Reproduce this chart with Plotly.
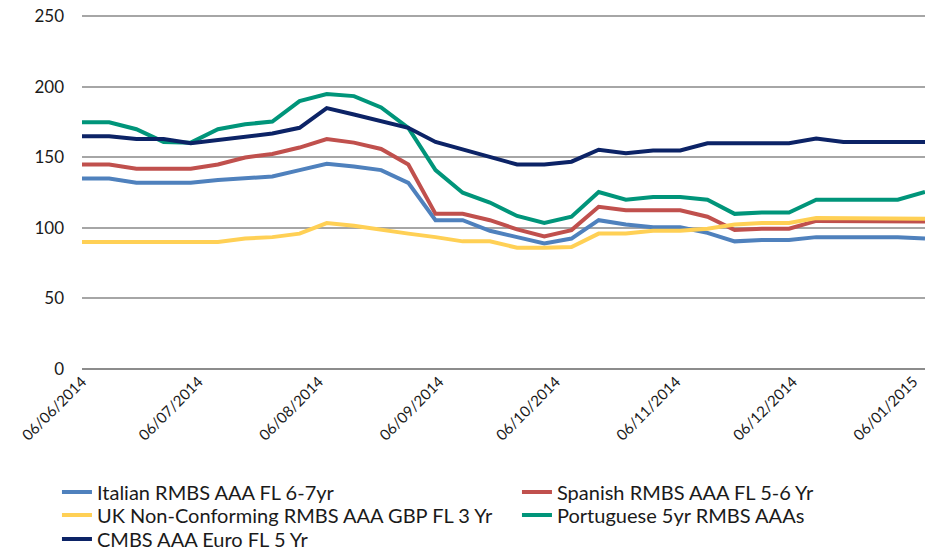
import plotly.graph_objects as go
import pandas as pd

dates = pd.date_range("2014-06-06", periods=32, freq="7D")

italian = [135, 135, 132, 132, 132, 134, 135.5, 136.5, 141, 145.5, 143.5, 141, 132, 105.5, 105.5, 98,
           93.5, 89, 92.5, 105.5, 102.5, 100.5, 100.5, 96.5, 90.5, 91.5, 91.5, 93.5, 93.5, 93.5, 93.5, 92.5]
spanish = [145, 145, 142, 142, 142, 145, 150, 152.5, 157, 163, 160.5, 156, 145, 110, 110, 105.5,
           99, 94, 98.5, 115, 112.5, 112.5, 112.5, 108, 98.5, 99.5, 99.5, 105, 105, 105, 105, 104.5]
uk = [90, 90, 90, 90, 90, 90, 92.5, 93.5, 96, 103.5, 101.5, 98.5, 96, 93.5, 90.5, 90.5,
      86, 86, 86.5, 96, 96, 98, 98, 99.5, 102.5, 103.5, 103.5, 107, 107, 107, 107, 106.5]
portuguese = [175, 175, 170, 161, 160.5, 170, 173.5, 175.5, 190, 195, 193.5, 185.5, 171, 141, 125, 118,
              108.5, 103.5, 108, 125.5, 120, 122, 122, 120, 110, 111, 111, 120, 120, 120, 120, 125.5]
cmbs = [165, 165, 163, 163, 160, 162.5, 164.5, 167, 171, 185, 180.5, 176, 171, 161, 155.5, 150,
        145, 145, 147, 155.5, 153, 155, 155, 160, 160, 160, 160, 163.5, 161, 161, 161, 161]

series = [
    ("Italian RMBS AAA FL 6-7yr", italian, "#4F81BD", "legend"),
    ("Spanish RMBS AAA FL 5-6 Yr", spanish, "#C0504D", "legend"),
    ("UK Non-Conforming RMBS AAA GBP FL 3 Yr", uk, "#FFD055", "legend2"),
    ("Portuguese 5yr RMBS AAAs", portuguese, "#00957A", "legend2"),
    ("CMBS AAA Euro FL 5 Yr", cmbs, "#0C2366", "legend3"),
]

tick_dates = pd.to_datetime(["2014-06-06", "2014-07-06", "2014-08-06", "2014-09-06",
                             "2014-10-06", "2014-11-06", "2014-12-06", "2015-01-06"])
tick_labels = [d.strftime("%d/%m/%Y") for d in tick_dates]
y_ticks = [0, 50, 100, 150, 200, 250]

FONT = "Lato, 'Open Sans', sans-serif"
TXT = "#1a1a1a"

fig = go.Figure()
for name, vals, color, lg in series:
    fig.add_trace(go.Scatter(x=dates, y=vals, name=name, mode="lines", legend=lg,
                             line=dict(color=color, width=4)))

PLOT_H = 354  # px, 0..251 on the y axis

def legend_row(top_px):
    # top_px: legend top in page pixels
    return dict(orientation="h", x=-0.0297, xanchor="left", y=(369 - top_px) / PLOT_H, yanchor="top",
                entrywidth=0.4973, entrywidthmode="fraction", tracegroupgap=0,
                bgcolor="rgba(0,0,0,0)", font=dict(size=20, color=TXT))

fig.update_layout(
    width=934, height=552,
    margin=dict(l=82, r=9, t=15, b=183, autoexpand=False),
    paper_bgcolor="white", plot_bgcolor="white",
    font=dict(family=FONT, size=17, color=TXT),
    showlegend=True,
    legend=legend_row(472.5),
    legend2=legend_row(495.5),
    legend3=legend_row(519.5),
    xaxis=dict(range=[dates[0], dates[-1]], tickvals=tick_dates, ticktext=tick_labels,
               tickangle=-45, showgrid=False, showline=False, zeroline=False,
               tickfont=dict(size=15), ticks=""),
    yaxis=dict(range=[0, 251], tickvals=y_ticks, showgrid=True,
               gridcolor="#A6A6A6", gridwidth=1.5, zeroline=True, zerolinecolor="#8C8C8C",
               zerolinewidth=2, showline=False, ticks="", tickfont=dict(size=17),
               ticklabelstandoff=17),
)

# remove the browser's default 8px body margin so the figure fills the window exactly
fig.write_html("out.html", config={"displayModeBar": False},
               post_script="document.body.style.margin='0';")
